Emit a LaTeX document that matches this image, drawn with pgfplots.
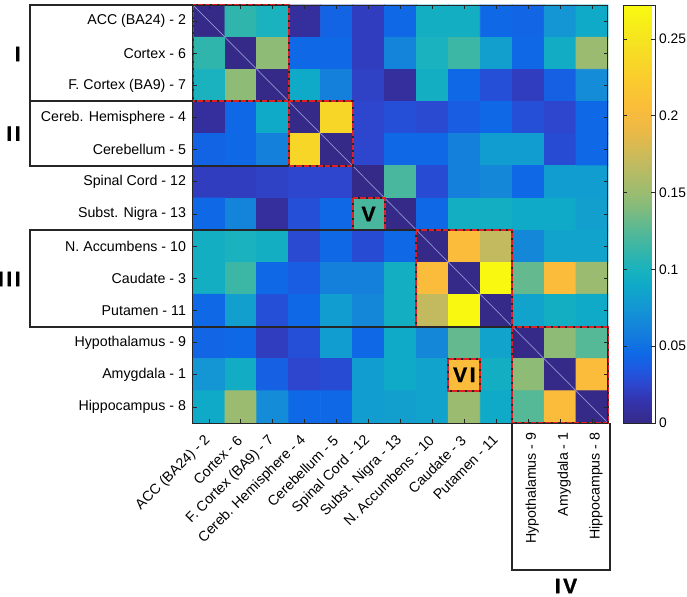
\documentclass[border=0pt]{standalone}
\usepackage{fontspec}
\setmainfont{Liberation Sans}
\newfontfamily\numfont{Liberation Sans Bold}[FakeBold=1.2, LetterSpace=12]
\usepackage{pgfplots}
\pgfplotsset{compat=1.18}
\definecolor{boxred}{RGB}{225,30,35}
\definecolor{axgray}{RGB}{38,38,38}
\pgfplotsset{
  colormap={parulaobs}{
    rgb255(0pt)=(53,42,135)
    rgb255(15pt)=(52,52,175)
    rgb255(25pt)=(45,70,205)
    rgb255(35pt)=(30,88,225)
    rgb255(45pt)=(15,105,230)
    rgb255(60pt)=(20,128,220)
    rgb255(75pt)=(20,150,212)
    rgb255(90pt)=(15,170,200)
    rgb255(100pt)=(25,178,190)
    rgb255(115pt)=(60,182,165)
    rgb255(125pt)=(85,184,150)
    rgb255(140pt)=(130,187,125)
    rgb255(150pt)=(155,188,112)
    rgb255(170pt)=(195,186,95)
    rgb255(190pt)=(235,185,70)
    rgb255(205pt)=(250,188,58)
    rgb255(225pt)=(250,205,45)
    rgb255(250pt)=(245,228,32)
    rgb255(272pt)=(249,250,15)
  }
}
\tikzset{
  blk/.style={draw=axgray, line width=1pt},
  redbox/.style={draw=boxred, line width=1pt, dash pattern=on 2.6pt off 1pt},
  blkbox/.style={draw=axgray, line width=1pt},
  roman/.style={font=\numfont\fontsize{10.5}{12}\selectfont, inner sep=1pt},
}
\begin{document}
\begin{tikzpicture}
\path[use as bounding box] (0,0) rectangle (343.5pt,-298pt);
\begin{axis}[
  at={(96.5pt,-2.5pt)}, anchor=north west,
  scale only axis, width=207.5pt, height=209pt,
  xmin=-0.5, xmax=12.5, ymin=-0.5, ymax=12.5, y dir=reverse,
  axis on top, clip=false,
  axis line style={color=axgray, line width=0.5pt},
  tick style={color=axgray, line width=0.4pt}, major tick length=2pt,
  xtick={0,...,9}, ytick={0,...,12},
  xticklabels={ACC (BA24) - 2, Cortex - 6, F. Cortex (BA9) - 7, Cereb. Hemisphere - 4, Cerebellum - 5, Spinal Cord - 12, Subst. Nigra - 13, N. Accumbens - 10, Caudate - 3, Putamen - 11},
  yticklabels={ACC (BA24) - 2, Cortex - 6, F. Cortex (BA9) - 7, Cereb. Hemisphere - 4, Cerebellum - 5, Spinal Cord - 12, Subst. Nigra - 13, N. Accumbens - 10, Caudate - 3, Putamen - 11, Hypothalamus - 9, Amygdala - 1, Hippocampus - 8},
  ticklabel style={font=\fontsize{7.1}{8.5}\selectfont, text=black},
  xticklabel style={xshift=2pt, yshift=-5pt, rotate=45, anchor=east},
  extra x ticks={10,11,12},
  extra x tick labels={Hypothalamus - 9, Amygdala - 1, Hippocampus - 8},
  extra x tick style={xticklabel style={rotate=45, xshift=3.8pt}},
  colormap name=parulaobs,
  point meta min=0, point meta max=0.272,
  colorbar,
  colorbar style={
    at={(parent axis.north east)}, anchor=north west, xshift=-1pt,
    width=16pt,
    ytick={0,0.05,0.1,0.15,0.2,0.25},
    yticklabels={0,0.05,0.1,0.15,0.2,0.25},
    yticklabel style={font=\fontsize{6.9}{8}\selectfont, xshift=-1.5pt},
    axis line style={color=axgray, line width=0.5pt},
    tick style={color=axgray}, major tick length=2pt,
  },
]
\addplot[matrix plot*, mesh/cols=13, point meta=explicit] coordinates {
(0,0)[0] (1,0)[0.11] (2,0)[0.10] (3,0)[0.008] (4,0)[0.042] (5,0)[0.02] (6,0)[0.045] (7,0)[0.095] (8,0)[0.095] (9,0)[0.045] (10,0)[0.043] (11,0)[0.075] (12,0)[0.09]
(0,1)[0.11] (1,1)[0] (2,1)[0.145] (3,1)[0.045] (4,1)[0.045] (5,1)[0.02] (6,1)[0.063] (7,1)[0.10] (8,1)[0.115] (9,1)[0.082] (10,1)[0.045] (11,1)[0.093] (12,1)[0.15]
(0,2)[0.10] (1,2)[0.145] (2,2)[0] (3,2)[0.09] (4,2)[0.06] (5,2)[0.022] (6,2)[0.008] (7,2)[0.095] (8,2)[0.045] (9,2)[0.03] (10,2)[0.02] (11,2)[0.04] (12,2)[0.068]
(0,3)[0.008] (1,3)[0.045] (2,3)[0.09] (3,3)[0] (4,3)[0.235] (5,3)[0.025] (6,3)[0.03] (7,3)[0.027] (8,3)[0.038] (9,3)[0.045] (10,3)[0.03] (11,3)[0.025] (12,3)[0.045]
(0,4)[0.042] (1,4)[0.045] (2,4)[0.06] (3,4)[0.235] (4,4)[0] (5,4)[0.025] (6,4)[0.045] (7,4)[0.045] (8,4)[0.06] (9,4)[0.08] (10,4)[0.08] (11,4)[0.028] (12,4)[0.045]
(0,5)[0.02] (1,5)[0.02] (2,5)[0.022] (3,5)[0.025] (4,5)[0.025] (5,5)[0] (6,5)[0.12] (7,5)[0.028] (8,5)[0.06] (9,5)[0.065] (10,5)[0.045] (11,5)[0.08] (12,5)[0.08]
(0,6)[0.045] (1,6)[0.063] (2,6)[0.008] (3,6)[0.03] (4,6)[0.045] (5,6)[0.12] (6,6)[0] (7,6)[0.045] (8,6)[0.095] (9,6)[0.095] (10,6)[0.09] (11,6)[0.09] (12,6)[0.082]
(0,7)[0.095] (1,7)[0.10] (2,7)[0.095] (3,7)[0.027] (4,7)[0.045] (5,7)[0.028] (6,7)[0.045] (7,7)[0] (8,7)[0.205] (9,7)[0.17] (10,7)[0.065] (11,7)[0.085] (12,7)[0.085]
(0,8)[0.095] (1,8)[0.115] (2,8)[0.045] (3,8)[0.038] (4,8)[0.06] (5,8)[0.06] (6,8)[0.095] (7,8)[0.205] (8,8)[0] (9,8)[0.27] (10,8)[0.13] (11,8)[0.205] (12,8)[0.15]
(0,9)[0.045] (1,9)[0.082] (2,9)[0.03] (3,9)[0.045] (4,9)[0.08] (5,9)[0.065] (6,9)[0.095] (7,9)[0.17] (8,9)[0.27] (9,9)[0] (10,9)[0.085] (11,9)[0.095] (12,9)[0.09]
(0,10)[0.043] (1,10)[0.045] (2,10)[0.02] (3,10)[0.03] (4,10)[0.08] (5,10)[0.045] (6,10)[0.09] (7,10)[0.065] (8,10)[0.13] (9,10)[0.085] (10,10)[0] (11,10)[0.145] (12,10)[0.125]
(0,11)[0.075] (1,11)[0.093] (2,11)[0.04] (3,11)[0.025] (4,11)[0.028] (5,11)[0.08] (6,11)[0.09] (7,11)[0.085] (8,11)[0.205] (9,11)[0.095] (10,11)[0.145] (11,11)[0] (12,11)[0.205]
(0,12)[0.09] (1,12)[0.15] (2,12)[0.068] (3,12)[0.045] (4,12)[0.045] (5,12)[0.08] (6,12)[0.082] (7,12)[0.085] (8,12)[0.15] (9,12)[0.09] (10,12)[0.125] (11,12)[0.205] (12,12)[0]
};
\addplot[color={rgb,255:red,140;green,150;blue,210}, line width=0.35pt] coordinates {(-0.5,-0.5) (12.5,12.5)};
% red dashed blocks
\draw[blkbox] (axis cs:-0.5,-0.5) rectangle (axis cs:2.5,2.5);
\draw[redbox] (axis cs:-0.5,-0.5) rectangle (axis cs:2.5,2.5);
\draw[blkbox] (axis cs:2.5,2.5) rectangle (axis cs:4.5,4.5);
\draw[redbox] (axis cs:2.5,2.5) rectangle (axis cs:4.5,4.5);
\draw[blkbox] (axis cs:6.5,6.5) rectangle (axis cs:9.5,9.5);
\draw[redbox] (axis cs:6.5,6.5) rectangle (axis cs:9.5,9.5);
\draw[blkbox] (axis cs:9.5,9.5) rectangle (axis cs:12.5,12.5);
\draw[redbox] (axis cs:9.5,9.5) rectangle (axis cs:12.5,12.5);
\draw[blkbox] (axis cs:4.5,5.5) rectangle (axis cs:5.5,6.5);
\draw[redbox] (axis cs:4.5,5.5) rectangle (axis cs:5.5,6.5);
\draw[blkbox] (axis cs:7.5,10.5) rectangle (axis cs:8.5,11.5);
\draw[redbox] (axis cs:7.5,10.5) rectangle (axis cs:8.5,11.5);
\node[roman] at (axis cs:5,6) {V};
\node[roman] at (axis cs:8,11) {VI};
\end{axis}
% group boxes
\draw[blk] (96.5pt,-2.5pt) -- (15pt,-2.5pt) -- (15pt,-50.7pt) -- (96.5pt,-50.7pt);
\draw[blk] (15pt,-50.7pt) -- (15pt,-82.9pt) -- (144.4pt,-82.9pt);
\draw[blk] (208.2pt,-115.1pt) -- (15pt,-115.1pt) -- (15pt,-163.3pt) -- (256.1pt,-163.3pt);
\draw[blk] (256.1pt,-211.5pt) -- (256.1pt,-285pt) -- (305pt,-285pt) -- (305pt,-211.5pt);
\node[roman, anchor=east] at (11.5pt,-27pt) {I};
\node[roman, anchor=east] at (11.5pt,-66.8pt) {II};
\node[roman, anchor=east] at (11.5pt,-139.5pt) {III};
\node[roman] at (283pt,-293pt) {IV};
\end{tikzpicture}
\end{document}
